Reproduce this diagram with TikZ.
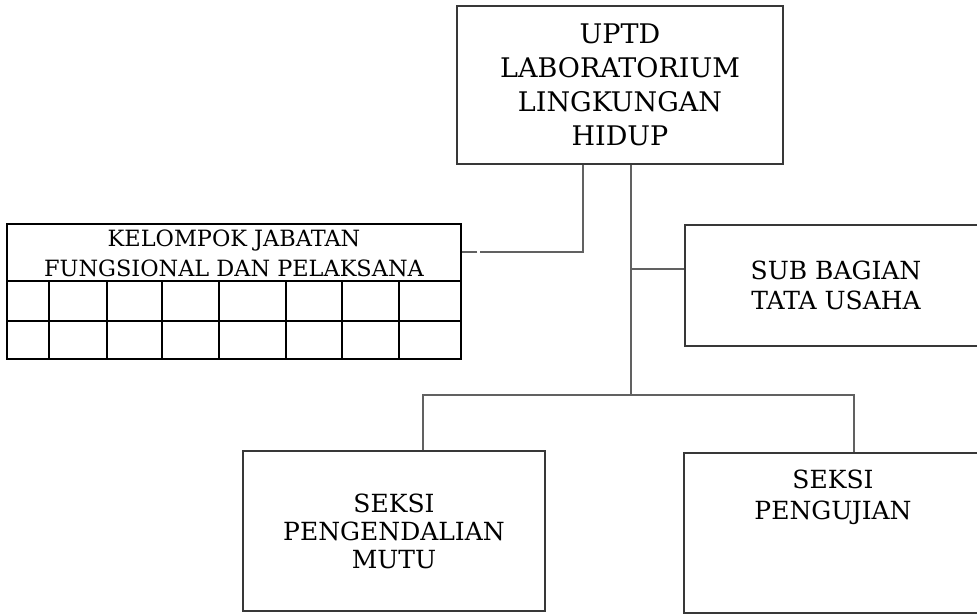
\documentclass[tikz,border=0pt]{standalone}
\usepackage{fontspec}
\setmainfont{DejaVu Serif}
\begin{document}
\begin{tikzpicture}[x=1pt,y=-1pt,
  box/.style={draw=black!78, line width=1.1pt, align=center, inner sep=0pt},
  conn/.style={draw=black!62, line width=1.2pt},
  gridline/.style={draw=black, line width=2pt},
  lbl/.style={align=center, inner sep=0pt}]
\useasboundingbox (0,0) rectangle (977,614);

% top box
\node[box, minimum width=326pt, minimum height=158pt,
      font=\fontsize{27}{34}\selectfont] (top) at (620,85)
  {UPTD\\LABORATORIUM\\LINGKUNGAN\\HIDUP};

% table
\node[draw=black, line width=2pt, minimum width=454pt, minimum height=135pt, inner sep=0pt] (kel) at (234,291.5) {};
\node[lbl, font=\fontsize{22.4}{30}\selectfont] (kelt) at (234,253.5)
  {KELOMPOK JABATAN\\FUNGSIONAL DAN PELAKSANA};
\draw[gridline] (7,281) -- (461,281);
\draw[gridline] (7,321) -- (461,321);
\foreach \cx in {49,107,162,219,286,342,399}
  \draw[gridline] (\cx,281) -- (\cx,359);

% other boxes
\node[box, minimum width=302pt, minimum height=121pt,
      font=\fontsize{25}{30}\selectfont] (sub) at (836,285.5)
  {SUB BAGIAN\\TATA USAHA};
\node[box, minimum width=302pt, minimum height=160pt,
      font=\fontsize{25}{28}\selectfont] (pm) at (394,531)
  {SEKSI\\PENGENDALIAN\\MUTU};
\node[box, minimum width=298pt, minimum height=160pt] (uji) at (833,533) {};
\node[lbl, font=\fontsize{25}{31}\selectfont] (ujit) at (833,497)
  {SEKSI\\PENGUJIAN};

% connectors
\coordinate (a) at (583,252);
\coordinate (b) at (631,395);
\coordinate (c) at (631,269);
\coordinate (d) at (423,395);
\coordinate (e) at (854,395);
\draw[conn, dash pattern=on 190pt off 3pt on 400pt] (top.south -| a) -- (a) -- (kel.east |- a);
\draw[conn] (top.south -| b) -- (b);
\draw[conn] (c) -- (sub.west |- c);
\draw[conn] (pm.north -| d) -- (d) -- (e) -- (uji.north -| e);
\end{tikzpicture}
\end{document}
